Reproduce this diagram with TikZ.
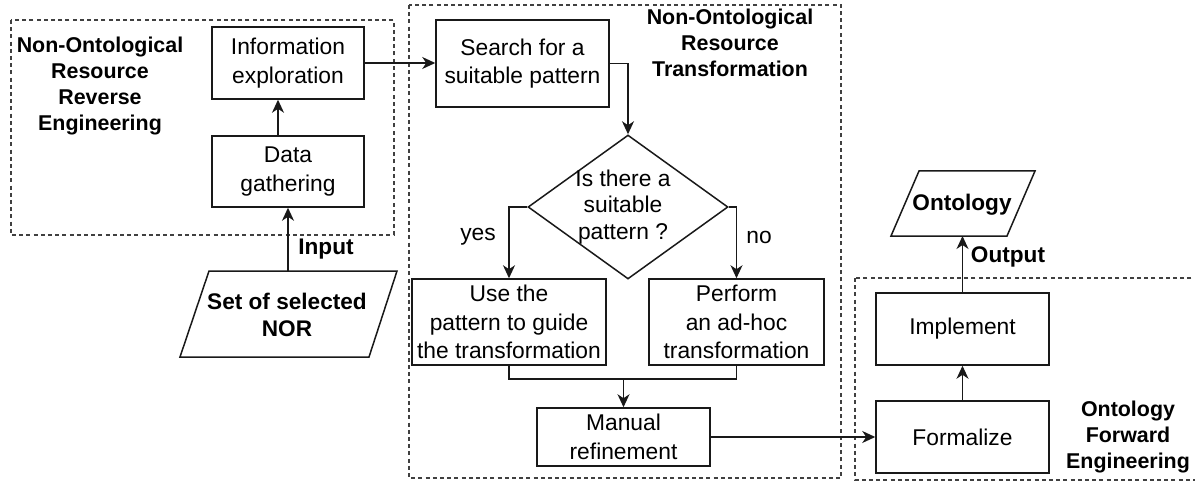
\documentclass[tikz,border=0pt]{standalone}
\usepackage{fontspec}
\setmainfont{Liberation Sans}
\usetikzlibrary{arrows.meta,shapes.geometric}

\begin{document}
\begin{tikzpicture}[x=0.5pt,y=-0.5pt,
  every node/.style={inner sep=0pt},
  stepbox/.style={draw=black!90, line width=0.75pt, align=center,
    font=\fontsize{11.4pt}{14.3pt}\selectfont},
  plain/.style={align=center, font=\fontsize{11.4pt}{14.3pt}\selectfont},
  boldlabel/.style={align=center, font=\fontsize{11.3pt}{13.8pt}\selectfont\bfseries},
  title/.style={align=center, font=\fontsize{10.7pt}{13pt}\selectfont\bfseries},
  group/.style={draw=black!75, line width=0.55pt, dash pattern=on 2pt off 1.6pt},
  flow/.style={draw=black!90, line width=0.7pt},
  arr/.style={flow, -{Stealth[length=6.5pt,width=6pt,inset=2pt]}},
  io/.style={draw=black!90, line width=0.75pt, line join=miter}
]
\useasboundingbox (0,0) rectangle (1195,481);

% dashed phase groups
\draw[group] (11,20) rectangle (394,235);
\draw[group] (409,5) rectangle (841,478);
\draw[group] (855,278) rectangle (1210,480);

% phase titles
\node[title] (tRev) at (100,86) {Non-Ontological\\Resource\\Reverse\\Engineering};
\node[title] (tTra) at (730,42.5) {Non-Ontological\\Resource\\Transformation};
\node[title] (tFwd) at (1128,437.5) {Ontology\\Forward\\Engineering};

% reverse engineering steps
\node[stepbox, minimum width=76pt, minimum height=36pt] (info) at (288,63) {Information\\exploration};
\node[stepbox, minimum width=76pt, minimum height=35.5pt] (data) at (288,171.5) {Data\\gathering};

% input: set of selected NOR
\draw[io] (209,271) -- (397,271) -- (369,357) -- (180,357) -- cycle;
\node[boldlabel] (nor) at (287,315) {Set of selected\\NOR};
\coordinate (norTop) at (288,271);

% transformation steps
\node[stepbox, minimum width=86.5pt, minimum height=43.5pt] (search) at (522.5,63.5) {Search for a\\suitable pattern};
\node[diamond, draw=black!90, line width=0.75pt, minimum width=100pt, minimum height=72pt] (dia) at (628,207) {};
\node[plain, font=\fontsize{11.4pt}{13.3pt}\selectfont] (diaText) at (623,207) {Is there a\\suitable\\pattern ?};
\node[stepbox, minimum width=97pt, minimum height=43pt] (use) at (509,322) {Use the\\pattern to guide\\the transformation};
\node[stepbox, minimum width=87.5pt, minimum height=43pt] (perform) at (736.5,322) {Perform\\an ad-hoc\\transformation};
\node[stepbox, minimum width=86.5pt, minimum height=29pt] (manual) at (623.5,437) {Manual\\refinement};
\coordinate (merge) at (623.5,379);

% forward engineering steps
\node[stepbox, minimum width=86.5pt, minimum height=36pt] (formalize) at (962.5,437) {Formalize};
\node[stepbox, minimum width=86.5pt, minimum height=36pt] (implement) at (962.5,329) {Implement};

% output: ontology
\draw[io] (919,171) -- (1035,171) -- (1007,236) -- (891,236) -- cycle;
\node[boldlabel] (onto) at (962,205) {Ontology};
\coordinate (ontoBottom) at (962.5,236);

% connector labels
\node[boldlabel] (lIn) at (326,249) {Input};
\node[boldlabel] (lOut) at (1008,257) {Output};
\node[plain] (lYes) at (478,237) {yes};
\node[plain] (lNo) at (759,237) {no};

% connectors
\draw[arr] (norTop) -- (data.south);
\draw[arr] ([xshift=-5pt]data.north) -- ([xshift=-5pt]info.south);
\draw[arr] (info.east) -- (info.east -| search.west);
\draw[arr] (search.east) -| (dia.north);
\draw[arr] (dia.west) -| (use.north);
\draw[arr] (dia.east) -| (perform.north);
\draw[flow] (use.south) |- (merge) -| (perform.south);
\draw[arr] (merge) -- (manual.north);
\draw[arr] (manual.east) -- (manual.east -| formalize.west);
\draw[arr] (formalize.north) -- (implement.south);
\draw[arr] (implement.north) -- (ontoBottom);
\end{tikzpicture}
\end{document}
